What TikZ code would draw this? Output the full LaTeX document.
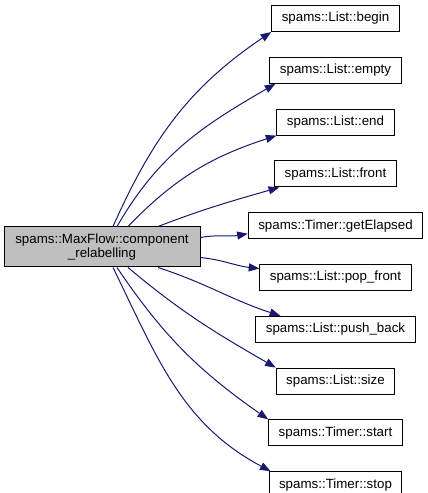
\documentclass[tikz,border=0pt]{standalone}
\usepackage{fontspec}
\setmainfont{Liberation Sans}
\usetikzlibrary{arrows.meta,positioning,calc}
\definecolor{edgeblue}{HTML}{191970}
\definecolor{callergray}{HTML}{BFBFBF}

\begin{document}
\begin{tikzpicture}[x=0.75pt,y=0.75pt,>={Triangle[length=8pt,width=6pt]},node distance=18.6pt,
  fn/.style={draw,line width=0.75pt,minimum height=19.5pt,inner xsep=7.5pt,inner ysep=0pt,font=\fontsize{10}{11}\selectfont},
  call/.style={->,color=edgeblue,line width=0.75pt}]
  \useasboundingbox (0,0) rectangle (428,493);
  \node[fn,fill=callergray,align=center,minimum width=147pt,minimum height=30pt] (main) at (102,246) {spams::MaxFlow::component\\\_relabelling};
  \node[fn] (begin) at (335.5,474.5) {spams::List::begin};
  \node[fn] (empty) [below=of begin] {spams::List::empty};
  \node[fn] (end) [below=of empty] {spams::List::end};
  \node[fn] (front) [below=of end] {spams::List::front};
  \node[fn] (elapsed) [below=of front] {spams::Timer::getElapsed};
  \node[fn] (popfront) [below=of elapsed] {spams::List::pop\_front};
  \node[fn] (pushback) [below=of popfront] {spams::List::push\_back};
  \node[fn] (size) [below=of pushback] {spams::List::size};
  \node[fn] (tstart) [below=of size] {spams::Timer::start};
  \node[fn] (tstop) [below=of tstart] {spams::Timer::stop};
  \draw[call] ($(main.north)+(11,0)$) to[out=66,in=214] (begin.south west);
  \draw[call] ($(main.north)+(15,0)$) to[out=60,in=210] ($(empty.south west)+(6,0)$);
  \draw[call] ($(main.north)+(26,0)$) to[out=46,in=198] (end.south west);
  \draw[call] ($(main.north)+(56,0)$) to[out=21,in=196] ($(front.south west)+(5,0)$);
  \draw[call] ($(main.east)+(0,9.5)$) to[out=10,in=190] ($(elapsed.west)+(0,-8)$);
  \draw[call] ($(main.east)+(0,-10.5)$) to[out=-6,in=174] ($(popfront.west)+(0,9)$);
  \draw[call] ($(main.south)+(56,0)$) to[out=-18,in=162] ($(pushback.north west)+(25,0)$);
  \draw[call] ($(main.south)+(26,0)$) to[out=-40,in=150] (size.north west);
  \draw[call] ($(main.south)+(15,0)$) to[out=-56,in=145] (tstart.north west);
  \draw[call] ($(main.south)+(11,0)$) to[out=-64,in=152] ($(tstop.north west)+(2,0)$);
\end{tikzpicture}
\end{document}
